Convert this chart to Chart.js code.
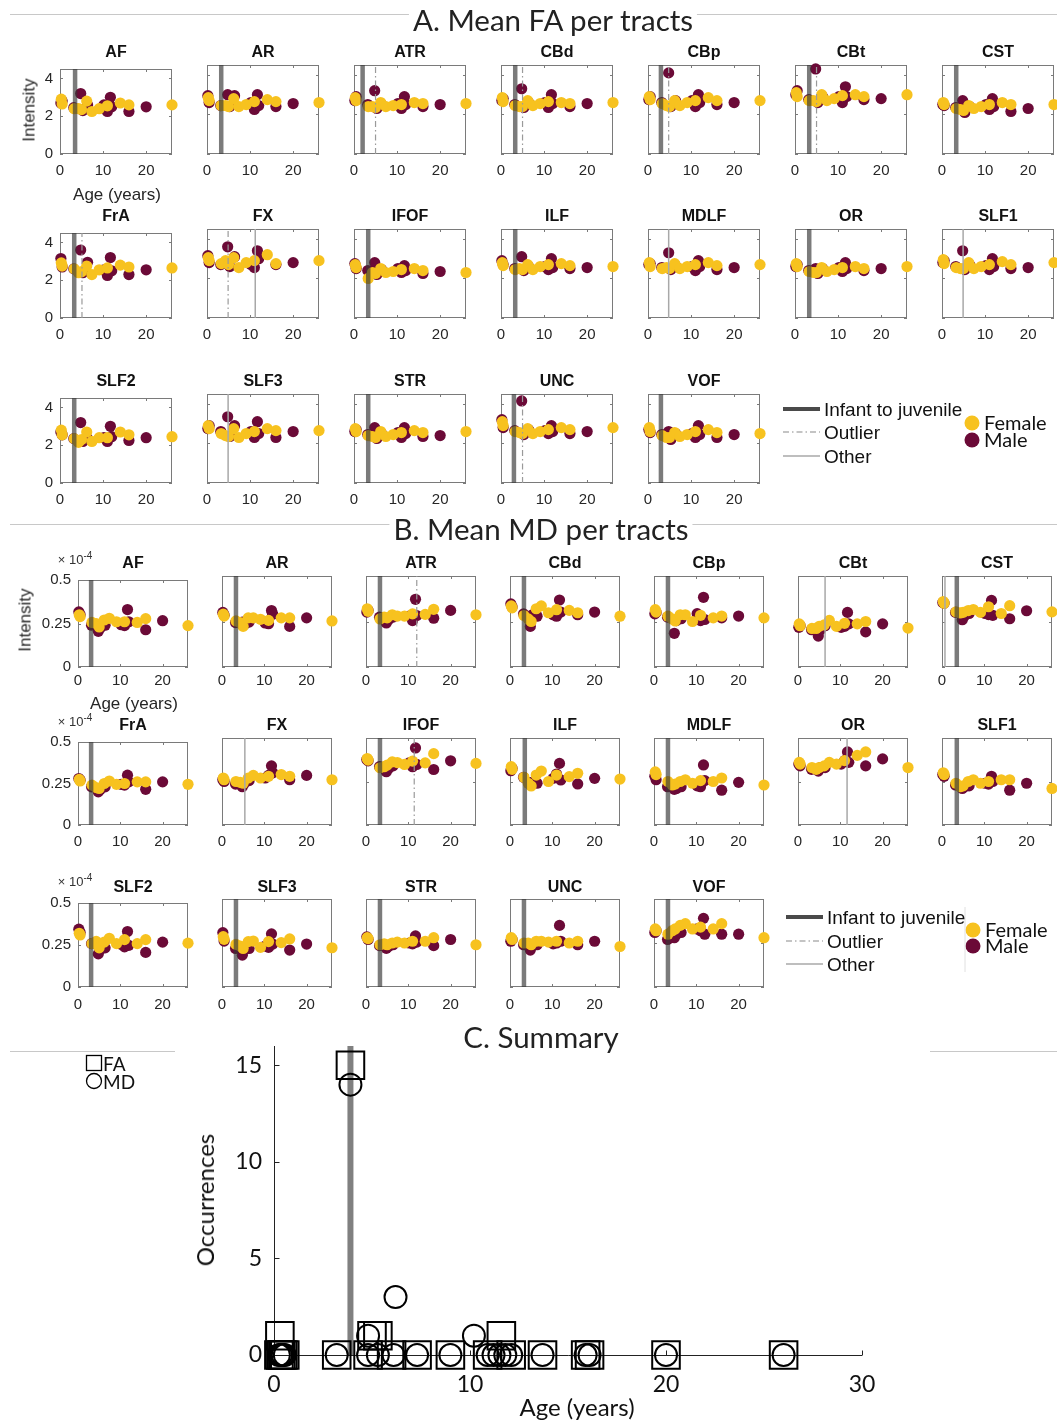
<!DOCTYPE html>
<html>
<head>
<meta charset="utf-8">
<title>Mean FA / MD per tract and change-point summary</title>
<script src="https://cdn.jsdelivr.net/npm/chart.js@4.4.1/dist/chart.umd.min.js"></script>
<style>
  html, body { margin: 0; padding: 0; background: #fff; }
  #page { position: relative; width: 1057px; height: 1423px; overflow: hidden; background: #fff; }
  canvas { position: absolute; }
  .t { position: absolute; transform: translate(-50%, -50%); white-space: nowrap; line-height: 1; }
  .tl { position: absolute; transform: translate(0, -50%); white-space: nowrap; line-height: 1; }
  .rule { position: absolute; height: 1px; background: #c8c8c8; }
  .ptitle { font-family: Lato, "Open Sans", sans-serif; font-size: 29.5px; color: #222; background: #fff; padding: 0 4px; }
  .stitle { font-family: "Liberation Sans", Arial, sans-serif; font-weight: bold; font-size: 16px; color: #111; }
  .lab { font-family: "Liberation Sans", Arial, sans-serif; font-size: 17px; color: #262626; }
  .exp { font-family: "Liberation Sans", Arial, sans-serif; font-size: 13px; color: #333; }
  .exp sup { font-size: 10px; vertical-align: 5px; }
  .leg { font-family: "Liberation Sans", Arial, sans-serif; font-size: 19px; color: #111; }
  .legc { font-family: Lato, "Open Sans", sans-serif; font-size: 20px; color: #111; }
  svg { position: absolute; overflow: visible; }
</style>
</head>
<body>
<div id="page"></div>
<script>
// ---------------------------------------------------------------------------
// Data
// ---------------------------------------------------------------------------
const tracts = ['AF', 'AR', 'ATR', 'CBd', 'CBp', 'CBt', 'CST', 'FrA', 'FX', 'IFOF',
                'ILF', 'MDLF', 'OR', 'SLF1', 'SLF2', 'SLF3', 'STR', 'UNC', 'VOF'];

// subject ages (years)
const femaleAge = [0.3, 0.5, 3.3, 4.3, 5.0, 6.2, 7.4, 9.1, 11.0, 14.0, 16.0, 26.0];
const maleAge   = [0.2, 0.5, 3.2, 4.8, 5.3, 6.4, 10.2, 11.0, 11.7, 12.0, 16.0, 20.0];

const ageTicks = [0, 10, 20];
const faTicks  = [0, 2, 4];
const mdTicks  = [0, 0.25, 0.5];   // x 10^-4

// mean FA per tract (one row per tract, ordered like femaleAge / maleAge)
const faFemale = [
  [2.90, 2.65, 2.40, 2.40, 2.35, 2.80, 2.25, 2.40, 2.55, 2.70, 2.60, 2.60],
  [2.85, 2.70, 2.45, 2.45, 2.40, 2.80, 2.40, 2.50, 2.65, 2.75, 2.65, 2.60],
  [2.85, 2.70, 2.40, 2.40, 2.35, 2.60, 2.40, 2.45, 2.50, 2.60, 2.55, 2.55],
  [2.85, 2.65, 2.45, 2.40, 2.40, 2.70, 2.45, 2.55, 2.65, 2.60, 2.55, 2.60],
  [2.90, 2.75, 2.55, 2.45, 2.40, 2.70, 2.45, 2.60, 2.70, 2.85, 2.70, 2.70],
  [3.10, 2.90, 2.70, 2.70, 2.65, 3.00, 2.70, 2.80, 2.95, 3.00, 2.90, 3.00],
  [2.60, 2.50, 2.30, 2.25, 2.20, 2.45, 2.30, 2.40, 2.50, 2.60, 2.50, 2.50],
  [2.92, 2.75, 2.60, 2.40, 2.45, 2.75, 2.30, 2.55, 2.65, 2.80, 2.70, 2.65],
  [3.05, 2.90, 2.75, 2.90, 2.70, 3.05, 2.55, 2.80, 2.90, 3.20, 2.75, 2.90],
  [2.70, 2.55, 2.00, 2.30, 2.25, 2.50, 2.30, 2.35, 2.45, 2.50, 2.40, 2.30],
  [2.80, 2.65, 2.45, 2.50, 2.45, 2.70, 2.45, 2.60, 2.70, 2.75, 2.65, 2.60],
  [2.80, 2.60, 2.50, 2.55, 2.50, 2.75, 2.50, 2.60, 2.70, 2.80, 2.65, 2.70],
  [2.75, 2.60, 2.35, 2.30, 2.30, 2.55, 2.35, 2.45, 2.55, 2.60, 2.50, 2.60],
  [2.95, 2.75, 2.55, 2.50, 2.50, 2.80, 2.50, 2.60, 2.70, 2.85, 2.70, 2.80],
  [2.80, 2.55, 2.35, 2.15, 2.30, 2.70, 2.20, 2.40, 2.40, 2.70, 2.55, 2.45],
  [2.90, 2.75, 2.50, 2.40, 2.35, 2.75, 2.30, 2.50, 2.60, 2.75, 2.65, 2.65],
  [2.75, 2.60, 2.40, 2.35, 2.30, 2.60, 2.35, 2.45, 2.55, 2.65, 2.55, 2.60],
  [3.10, 2.90, 2.60, 2.55, 2.50, 2.75, 2.50, 2.60, 2.70, 2.80, 2.70, 2.80],
  [2.80, 2.60, 2.40, 2.30, 2.30, 2.55, 2.35, 2.45, 2.60, 2.70, 2.55, 2.50]
];
const faMale = [
  [2.70, 2.80, 2.45, 3.20, 2.30, 2.60, 2.60, 2.25, 3.00, 2.50, 2.25, 2.50],
  [2.95, 2.60, 2.45, 3.00, 2.40, 2.95, 2.60, 2.25, 3.00, 2.45, 2.40, 2.55],
  [2.70, 2.90, 2.50, 3.20, 2.30, 2.50, 2.55, 2.30, 2.90, 2.50, 2.40, 2.50],
  [2.70, 2.80, 2.50, 3.30, 2.35, 2.60, 2.60, 2.35, 3.00, 2.55, 2.40, 2.55],
  [2.75, 2.90, 2.60, 4.10, 2.40, 2.70, 2.70, 2.40, 3.00, 2.60, 2.50, 2.60],
  [3.00, 3.20, 2.75, 4.30, 2.60, 2.90, 2.90, 2.60, 3.40, 2.90, 2.75, 2.80],
  [2.50, 2.45, 2.35, 2.70, 2.10, 2.40, 2.50, 2.25, 2.80, 2.40, 2.15, 2.30],
  [3.15, 2.70, 2.60, 3.60, 2.40, 2.95, 2.55, 2.25, 3.20, 2.50, 2.30, 2.55],
  [3.15, 2.80, 2.70, 3.60, 2.60, 3.10, 2.70, 2.55, 3.40, 3.00, 2.70, 2.80],
  [2.75, 2.50, 2.40, 2.80, 2.20, 2.45, 2.50, 2.30, 2.65, 2.40, 2.25, 2.35],
  [2.90, 2.70, 2.50, 3.10, 2.40, 2.60, 2.60, 2.45, 3.00, 2.55, 2.50, 2.55],
  [2.70, 2.75, 2.55, 3.30, 2.45, 2.65, 2.60, 2.40, 2.90, 2.60, 2.45, 2.55],
  [2.60, 2.70, 2.40, 2.50, 2.25, 2.50, 2.55, 2.35, 2.80, 2.50, 2.40, 2.50],
  [2.80, 2.90, 2.60, 3.40, 2.45, 2.70, 2.65, 2.45, 3.00, 2.60, 2.50, 2.55],
  [2.70, 2.55, 2.35, 3.20, 2.20, 2.35, 2.40, 2.20, 3.00, 2.45, 2.25, 2.40],
  [2.75, 2.90, 2.60, 3.35, 2.35, 2.90, 2.60, 2.30, 3.10, 2.50, 2.30, 2.60],
  [2.60, 2.70, 2.45, 2.80, 2.25, 2.50, 2.55, 2.30, 2.80, 2.50, 2.35, 2.40],
  [3.20, 2.80, 2.65, 4.15, 2.45, 2.70, 2.65, 2.50, 2.90, 2.60, 2.50, 2.60],
  [2.70, 2.55, 2.45, 2.60, 2.20, 2.50, 2.50, 2.30, 2.90, 2.45, 2.30, 2.45]
];

// mean MD per tract (x 10^-4)
const mdFemale = [
  [0.300, 0.290, 0.256, 0.250, 0.230, 0.270, 0.280, 0.260, 0.260, 0.256, 0.278, 0.238],
  [0.290, 0.280, 0.253, 0.244, 0.223, 0.270, 0.270, 0.262, 0.256, 0.270, 0.270, 0.253],
  [0.320, 0.306, 0.264, 0.274, 0.270, 0.287, 0.280, 0.280, 0.292, 0.289, 0.317, 0.287],
  [0.336, 0.325, 0.283, 0.264, 0.250, 0.320, 0.336, 0.298, 0.315, 0.311, 0.298, 0.279],
  [0.315, 0.302, 0.279, 0.264, 0.253, 0.287, 0.287, 0.250, 0.284, 0.270, 0.280, 0.270],
  [0.237, 0.227, 0.212, 0.212, 0.223, 0.231, 0.256, 0.223, 0.240, 0.237, 0.250, 0.214],
  [0.360, 0.350, 0.303, 0.297, 0.300, 0.310, 0.316, 0.300, 0.331, 0.294, 0.337, 0.303],
  [0.275, 0.265, 0.240, 0.225, 0.220, 0.250, 0.265, 0.245, 0.250, 0.260, 0.260, 0.245],
  [0.270, 0.260, 0.250, 0.245, 0.240, 0.270, 0.285, 0.270, 0.280, 0.290, 0.280, 0.260],
  [0.382, 0.373, 0.329, 0.335, 0.344, 0.363, 0.359, 0.348, 0.367, 0.357, 0.410, 0.354],
  [0.335, 0.320, 0.274, 0.240, 0.224, 0.287, 0.310, 0.250, 0.287, 0.278, 0.297, 0.264],
  [0.305, 0.290, 0.250, 0.230, 0.235, 0.250, 0.260, 0.240, 0.255, 0.250, 0.270, 0.230],
  [0.360, 0.350, 0.330, 0.320, 0.330, 0.340, 0.360, 0.350, 0.370, 0.400, 0.420, 0.330],
  [0.300, 0.290, 0.240, 0.220, 0.225, 0.250, 0.260, 0.240, 0.250, 0.260, 0.260, 0.210],
  [0.320, 0.310, 0.258, 0.271, 0.233, 0.267, 0.290, 0.258, 0.282, 0.258, 0.282, 0.261],
  [0.286, 0.271, 0.242, 0.233, 0.219, 0.258, 0.261, 0.225, 0.258, 0.252, 0.273, 0.223],
  [0.280, 0.275, 0.240, 0.245, 0.240, 0.250, 0.255, 0.250, 0.260, 0.260, 0.280, 0.240],
  [0.280, 0.270, 0.250, 0.250, 0.240, 0.260, 0.260, 0.255, 0.260, 0.250, 0.260, 0.230],
  [0.330, 0.320, 0.300, 0.320, 0.330, 0.350, 0.360, 0.330, 0.340, 0.330, 0.360, 0.280]
];
const mdMale = [
  [0.317, 0.300, 0.240, 0.205, 0.225, 0.240, 0.243, 0.238, 0.330, 0.260, 0.214, 0.266],
  [0.300, 0.285, 0.244, 0.247, 0.234, 0.247, 0.242, 0.238, 0.310, 0.290, 0.223, 0.270],
  [0.302, 0.311, 0.274, 0.242, 0.260, 0.274, 0.280, 0.255, 0.372, 0.283, 0.268, 0.311],
  [0.347, 0.330, 0.292, 0.223, 0.287, 0.279, 0.287, 0.279, 0.368, 0.302, 0.287, 0.302],
  [0.292, 0.300, 0.274, 0.185, 0.255, 0.265, 0.293, 0.255, 0.383, 0.261, 0.270, 0.280],
  [0.218, 0.227, 0.205, 0.170, 0.205, 0.227, 0.218, 0.223, 0.300, 0.237, 0.193, 0.237],
  [0.354, 0.350, 0.300, 0.260, 0.280, 0.294, 0.294, 0.288, 0.366, 0.284, 0.265, 0.309],
  [0.280, 0.270, 0.230, 0.200, 0.215, 0.230, 0.245, 0.240, 0.300, 0.260, 0.215, 0.260],
  [0.260, 0.250, 0.235, 0.220, 0.240, 0.255, 0.270, 0.285, 0.340, 0.300, 0.260, 0.285],
  [0.376, 0.369, 0.335, 0.306, 0.325, 0.340, 0.357, 0.335, 0.443, 0.348, 0.319, 0.369],
  [0.312, 0.325, 0.274, 0.243, 0.240, 0.240, 0.268, 0.293, 0.354, 0.259, 0.236, 0.268],
  [0.280, 0.260, 0.220, 0.205, 0.210, 0.220, 0.225, 0.220, 0.345, 0.255, 0.200, 0.245],
  [0.350, 0.340, 0.320, 0.310, 0.330, 0.330, 0.350, 0.370, 0.420, 0.360, 0.340, 0.380],
  [0.290, 0.280, 0.230, 0.210, 0.220, 0.225, 0.240, 0.235, 0.280, 0.250, 0.200, 0.240],
  [0.344, 0.324, 0.258, 0.197, 0.225, 0.233, 0.254, 0.239, 0.330, 0.248, 0.206, 0.267],
  [0.309, 0.261, 0.219, 0.181, 0.210, 0.219, 0.233, 0.225, 0.302, 0.244, 0.210, 0.244],
  [0.285, 0.270, 0.235, 0.220, 0.230, 0.240, 0.250, 0.245, 0.290, 0.255, 0.235, 0.270],
  [0.260, 0.270, 0.240, 0.210, 0.235, 0.240, 0.245, 0.250, 0.350, 0.260, 0.240, 0.260],
  [0.310, 0.320, 0.270, 0.280, 0.300, 0.310, 0.330, 0.320, 0.390, 0.300, 0.300, 0.300]
];

// change-point ages per tract (null = none)
const faInfant  = [3.5, 3.3, 2.0, 3.3, 3.0, 3.3, 3.3, 3.3, null, 3.3, 3.3, null, 3.3, null, 3.3, null, 3.3, 3.0, 3.0];
const faOutlier = [null, null, 5.0, 5.0, 4.8, 5.0, null, 5.1, 4.9, null, null, null, null, null, null, null, null, 5.0, null];
const faOther   = [null, null, null, null, null, null, null, null, 11.2, null, null, 4.8, null, 4.9, null, 4.9, null, null, null];
const mdInfant  = [3.1, 3.3, 3.3, 3.3, 3.3, null, 3.5, 3.1, null, 3.3, 3.5, 3.3, null, 3.5, 3.1, 3.3, 3.3, 3.3, 3.3];
const mdOutlier = [null, null, 12.0, null, null, null, null, null, null, 11.4, null, null, null, null, null, null, null, null, null];
const mdOther   = [null, null, null, null, null, 6.4, 0.7, null, 5.4, null, null, null, 11.6, null, null, null, null, null, null];

// summary: occurrences of change points by age
const sumFaAge   = [0.25, 0.35, 0.45, 0.55, 3.2, 4.8, 6.0, 7.3, 9.0, 10.9, 12.1, 13.7, 15.9, 16.1, 20.0, 26.0, 0.3, 5.0, 5.3, 11.6, 3.9];
const sumFaCount = [0, 0, 0, 0, 0, 0, 0, 0, 0, 0, 0, 0, 0, 0, 0, 0, 1, 1, 1, 1, 15];
const sumMdAge   = [0.25, 0.35, 0.45, 0.55, 3.2, 4.8, 5.3, 6.1, 7.3, 9.0, 10.9, 11.2, 11.5, 11.8, 12.1, 13.7, 15.9, 16.1, 20.0, 26.0, 4.8, 10.2, 6.2, 3.9];
const sumMdCount = [0, 0, 0, 0, 0, 0, 0, 0, 0, 0, 0, 0, 0, 0, 0, 0, 0, 0, 0, 0, 1, 1, 3, 14];
const sumInfantAge = 3.9;
const sumXTicks = [0, 10, 20, 30];
const sumYTicks = [0, 5, 10, 15];

// ---------------------------------------------------------------------------
// Styles
// ---------------------------------------------------------------------------
const FEMALE = '#f7c21f';
const MALE = '#6b0a37';
const INFANT_STYLE  = { borderColor: 'rgba(55,55,55,0.66)', borderWidth: 4.5 };
const OUTLIER_STYLE = { borderColor: '#9a9a9a', borderWidth: 1.2, borderDash: [6, 3, 1.5, 3] };
const OTHER_STYLE   = { borderColor: '#a8a8a8', borderWidth: 1.5 };

const page = document.getElementById('page');

function addText(x, y, html, cls, left) {
  const d = document.createElement('div');
  d.className = (left ? 'tl ' : 't ') + cls;
  d.style.left = x + 'px';
  d.style.top = y + 'px';
  d.innerHTML = html;
  page.appendChild(d);
  return d;
}
function addRule(x1, x2, y) {
  const d = document.createElement('div');
  d.className = 'rule';
  d.style.left = x1 + 'px';
  d.style.top = y + 'px';
  d.style.width = (x2 - x1) + 'px';
  page.appendChild(d);
}

// MATLAB-like box with inward ticks, drawn under the data
const boxPlugin = {
  id: 'mbox',
  beforeDatasetsDraw(chart) {
    const { ctx, chartArea: a, scales: { x, y } } = chart;
    const L = 3;
    ctx.save();
    ctx.strokeStyle = '#7a7a7a';
    ctx.lineWidth = 1;
    ctx.strokeRect(Math.round(a.left) + 0.5, Math.round(a.top) + 0.5,
                   Math.round(a.width) - 1, Math.round(a.height) - 1);
    ctx.beginPath();
    x.ticks.forEach(t => {
      const px = Math.round(x.getPixelForValue(t.value)) + 0.5;
      ctx.moveTo(px, a.bottom); ctx.lineTo(px, a.bottom - L);
      ctx.moveTo(px, a.top); ctx.lineTo(px, a.top + L);
    });
    y.ticks.forEach(t => {
      const py = Math.round(y.getPixelForValue(t.value)) + 0.5;
      ctx.moveTo(a.left, py); ctx.lineTo(a.left + L, py);
      ctx.moveTo(a.right, py); ctx.lineTo(a.right - L, py);
    });
    ctx.stroke();
    ctx.restore();
  }
};

// ---------------------------------------------------------------------------
// Small multiples
// ---------------------------------------------------------------------------
const YW = 45, PT = 12, PR = 14, XH = 32;

function vline(age, yMax, style) {
  return Object.assign({
    type: 'line',
    data: [{ x: age, y: 0 }, { x: age, y: yMax }],
    pointRadius: 0, fill: false, clip: false, order: 0
  }, style);
}

function subplot(p) {
  const W = YW + p.w + PR, H = PT + p.h + XH;
  const c = document.createElement('canvas');
  c.width = W; c.height = H;
  c.style.left = (p.left - YW) + 'px';
  c.style.top = (p.top - PT) + 'px';
  c.style.width = W + 'px';
  c.style.height = H + 'px';
  page.appendChild(c);

  const datasets = [
    { data: maleAge.map((a, i) => ({ x: a, y: p.male[i] })), backgroundColor: MALE,
      borderWidth: 0, pointRadius: 5.6, clip: false, order: 2 },
    { data: femaleAge.map((a, i) => ({ x: a, y: p.female[i] })), backgroundColor: FEMALE,
      borderWidth: 0, pointRadius: 5.6, clip: false, order: 1 }
  ];
  if (p.other != null) datasets.push(vline(p.other, p.yMax, OTHER_STYLE));
  if (p.outlier != null) datasets.push(vline(p.outlier, p.yMax, OUTLIER_STYLE));
  if (p.infant != null) datasets.push(vline(p.infant, p.yMax, INFANT_STYLE));

  const tickFont = { family: '"Liberation Sans", Arial, sans-serif', size: 15 };
  new Chart(c, {
    type: 'scatter',
    data: { datasets },
    plugins: [boxPlugin],
    options: {
      responsive: false, animation: false, devicePixelRatio: 1, events: [],
      layout: { padding: { left: 0, right: PR, top: PT, bottom: 0 } },
      plugins: { legend: { display: false }, tooltip: { enabled: false } },
      scales: {
        x: {
          type: 'linear', min: 0, max: 26,
          afterBuildTicks: s => { s.ticks = ageTicks.map(v => ({ value: v })); },
          afterFit: s => { s.height = XH; },
          grid: { display: false, drawTicks: false }, border: { display: false },
          ticks: { font: tickFont, color: '#262626', padding: p.xpad, autoSkip: false, maxRotation: 0,
                   callback: v => String(v) }
        },
        y: {
          type: 'linear', min: 0, max: p.yMax,
          afterBuildTicks: s => { s.ticks = p.yTicks.map(v => ({ value: v })); },
          afterFit: s => { s.width = YW; },
          grid: { display: false, drawTicks: false }, border: { display: false },
          ticks: { display: p.showY, font: tickFont, color: '#262626', padding: 7, autoSkip: false,
                   callback: v => String(v) }
        }
      }
    }
  });
}

// Panel A: FA
const faCols = [60, 207, 354, 501, 648, 795, 942];
const faRows = [65, 229, 394];
const faTitleY = [52, 216, 381];
// Panel B: MD
const mdCols = [78, 222, 366, 510, 654, 798, 942];
const mdRows = [576, 738, 899];
const mdRowH = [91, 87, 88];
const mdTitleY = [563, 725, 887];
const mdPad = [5, 8, 9];

tracts.forEach((name, i) => {
  const r = Math.floor(i / 7), col = i % 7;
  subplot({
    left: faCols[col], top: faRows[r], w: 112, h: 89, yMax: 4.5, yTicks: faTicks,
    showY: col === 0, xpad: 8,
    female: faFemale[i], male: faMale[i],
    infant: faInfant[i], outlier: faOutlier[i], other: faOther[i]
  });
  addText(faCols[col] + 56, faTitleY[r], name, 'stitle');

  subplot({
    left: mdCols[col], top: mdRows[r], w: 110, h: mdRowH[r], yMax: 0.5, yTicks: mdTicks,
    showY: col === 0, xpad: mdPad[r],
    female: mdFemale[i], male: mdMale[i],
    infant: mdInfant[i], outlier: mdOutlier[i], other: mdOther[i]
  });
  addText(mdCols[col] + 55, mdTitleY[r], name, 'stitle');
  if (col === 0) addText(75, [558, 720, 880][r], '× 10<sup>-4</sup>', 'exp');
});

// axis labels of the first small plot in each panel
const ia = addText(29, 110, 'Intensity', 'lab'); ia.style.transform = 'translate(-50%,-50%) rotate(-90deg)';
const ib = addText(25, 620, 'Intensity', 'lab'); ib.style.transform = 'translate(-50%,-50%) rotate(-90deg)';
addText(117, 194, 'Age (years)', 'lab');
addText(134, 703, 'Age (years)', 'lab');

// panel headers
addRule(10, 1057, 14);
addText(553, 20, 'A. Mean FA per tracts', 'ptitle');
addRule(10, 1057, 524);
addText(541, 529, 'B. Mean MD per tracts', 'ptitle');
addRule(10, 175, 1051);
addRule(930, 1057, 1051);
addText(541, 1037, 'C. Summary', 'ptitle');

// line-style / sex legends for panels A and B
function legend(x0, ys, sexX, sexY, sep) {
  const ns = 'http://www.w3.org/2000/svg';
  const svg = document.createElementNS(ns, 'svg');
  svg.setAttribute('width', '1057'); svg.setAttribute('height', '1423');
  svg.style.left = '0px'; svg.style.top = '0px';
  const mk = (tag, attrs) => { const e = document.createElementNS(ns, tag); for (const k in attrs) e.setAttribute(k, attrs[k]); svg.appendChild(e); };
  mk('line', { x1: x0, x2: x0 + 37, y1: ys[0], y2: ys[0], stroke: '#4a4a4a', 'stroke-width': 4 });
  mk('line', { x1: x0, x2: x0 + 37, y1: ys[1], y2: ys[1], stroke: '#8a8a8a', 'stroke-width': 1.2, 'stroke-dasharray': '6 3 1.5 3' });
  mk('line', { x1: x0, x2: x0 + 37, y1: ys[2], y2: ys[2], stroke: '#a8a8a8', 'stroke-width': 1.5 });
  mk('circle', { cx: sexX, cy: sexY[0], r: 7.5, fill: FEMALE });
  mk('circle', { cx: sexX, cy: sexY[1], r: 7.5, fill: MALE });
  if (sep) mk('line', { x1: sep, x2: sep, y1: ys[0] - 10, y2: ys[2] + 8, stroke: '#e0e0e0', 'stroke-width': 1 });
  page.appendChild(svg);
  addText(x0 + 41, ys[0], 'Infant to juvenile', 'leg', true);
  addText(x0 + 41, ys[1], 'Outlier', 'leg', true);
  addText(x0 + 41, ys[2], 'Other', 'leg', true);
  addText(sexX + 12, sexY[0] - 1, 'Female', 'legc', true);
  addText(sexX + 12, sexY[1] - 1, 'Male', 'legc', true);
}
legend(783, [409, 432, 456], 972, [423, 440], null);
legend(786, [917, 941, 964], 973, [930, 946], 965);

// ---------------------------------------------------------------------------
// Panel C: summary
// ---------------------------------------------------------------------------
const axesPlugin = {
  id: 'maxes',
  beforeDatasetsDraw(chart) {
    const { ctx, chartArea: a, scales: { x, y } } = chart;
    const L = 5;
    ctx.save();
    ctx.strokeStyle = '#222';
    ctx.lineWidth = 1;
    ctx.beginPath();
    const l = Math.round(a.left) + 0.5, b = Math.round(a.bottom) + 0.5;
    ctx.moveTo(l, a.top); ctx.lineTo(l, b + 1);
    ctx.moveTo(l, b); ctx.lineTo(a.right, b);
    x.ticks.forEach(t => {
      const px = Math.round(x.getPixelForValue(t.value)) + 0.5;
      ctx.moveTo(px, b); ctx.lineTo(px, b - L);
    });
    y.ticks.forEach(t => {
      const py = Math.round(y.getPixelForValue(t.value)) + 0.5;
      ctx.moveTo(l, py); ctx.lineTo(l + L, py);
    });
    ctx.stroke();
    ctx.restore();
  }
};

(function summary() {
  const left = 274, top = 1046, w = 588, h = 309;
  const cYW = 70, cPT = 30, cPR = 30, cXH = 46;
  const W = cYW + w + cPR, H = cPT + h + cXH;
  const c = document.createElement('canvas');
  c.width = W; c.height = H;
  c.style.left = (left - cYW) + 'px';
  c.style.top = (top - cPT) + 'px';
  c.style.width = W + 'px';
  c.style.height = H + 'px';
  page.appendChild(c);
  const font = { family: 'Lato, "Open Sans", sans-serif', size: 23 };
  new Chart(c, {
    type: 'scatter',
    data: {
      datasets: [
        { type: 'line', data: [{ x: sumInfantAge, y: 0 }, { x: sumInfantAge, y: 16 }],
          borderColor: '#808080', borderWidth: 6, pointRadius: 0, fill: false, clip: false, order: 3 },
        { data: sumFaAge.map((a, i) => ({ x: a, y: sumFaCount[i] })), pointStyle: 'rect',
          pointRadius: 19.5, borderColor: '#000', borderWidth: 2, backgroundColor: 'rgba(0,0,0,0)',
          clip: false, order: 2 },
        { data: sumMdAge.map((a, i) => ({ x: a, y: sumMdCount[i] })), pointStyle: 'circle',
          pointRadius: 11, borderColor: '#000', borderWidth: 2, backgroundColor: 'rgba(0,0,0,0)',
          clip: false, order: 1 }
      ]
    },
    plugins: [axesPlugin],
    options: {
      responsive: false, animation: false, devicePixelRatio: 1, events: [],
      layout: { padding: { left: 0, right: cPR, top: cPT, bottom: 0 } },
      plugins: { legend: { display: false }, tooltip: { enabled: false } },
      scales: {
        x: {
          type: 'linear', min: 0, max: 30,
          afterBuildTicks: s => { s.ticks = sumXTicks.map(v => ({ value: v })); },
          afterFit: s => { s.height = cXH; },
          grid: { display: false, drawTicks: false }, border: { display: false },
          ticks: { font, color: '#111', padding: 16, autoSkip: false, maxRotation: 0, callback: v => String(v) }
        },
        y: {
          type: 'linear', min: 0, max: 16,
          afterBuildTicks: s => { s.ticks = sumYTicks.map(v => ({ value: v })); },
          afterFit: s => { s.width = cYW; },
          grid: { display: false, drawTicks: false }, border: { display: false },
          ticks: { font, color: '#111', padding: 12, autoSkip: false, callback: v => String(v) }
        }
      }
    }
  });
})();

const oc = addText(205, 1200, 'Occurrences', 'legc');
oc.style.fontSize = '24px';
oc.style.transform = 'translate(-50%,-50%) rotate(-90deg)';
const ax = addText(577, 1407, 'Age (years)', 'legc');
ax.style.fontSize = '24px';

// FA / MD marker legend
(function () {
  const ns = 'http://www.w3.org/2000/svg';
  const svg = document.createElementNS(ns, 'svg');
  svg.setAttribute('width', '200'); svg.setAttribute('height', '60');
  svg.style.left = '0px'; svg.style.top = '1040px';
  const sq = document.createElementNS(ns, 'rect');
  sq.setAttribute('x', 86.5); sq.setAttribute('y', 15.5); sq.setAttribute('width', 15); sq.setAttribute('height', 15);
  sq.setAttribute('fill', 'none'); sq.setAttribute('stroke', '#000'); sq.setAttribute('stroke-width', 1.3);
  svg.appendChild(sq);
  const ci = document.createElementNS(ns, 'circle');
  ci.setAttribute('cx', 94); ci.setAttribute('cy', 41); ci.setAttribute('r', 7.5);
  ci.setAttribute('fill', 'none'); ci.setAttribute('stroke', '#000'); ci.setAttribute('stroke-width', 1.3);
  svg.appendChild(ci);
  page.appendChild(svg);
  const fa = addText(103, 1063, 'FA', 'legc', true); fa.style.fontSize = '19px';
  const md = addText(103, 1081, 'MD', 'legc', true); md.style.fontSize = '19px';
})();
</script>
</body>
</html>
